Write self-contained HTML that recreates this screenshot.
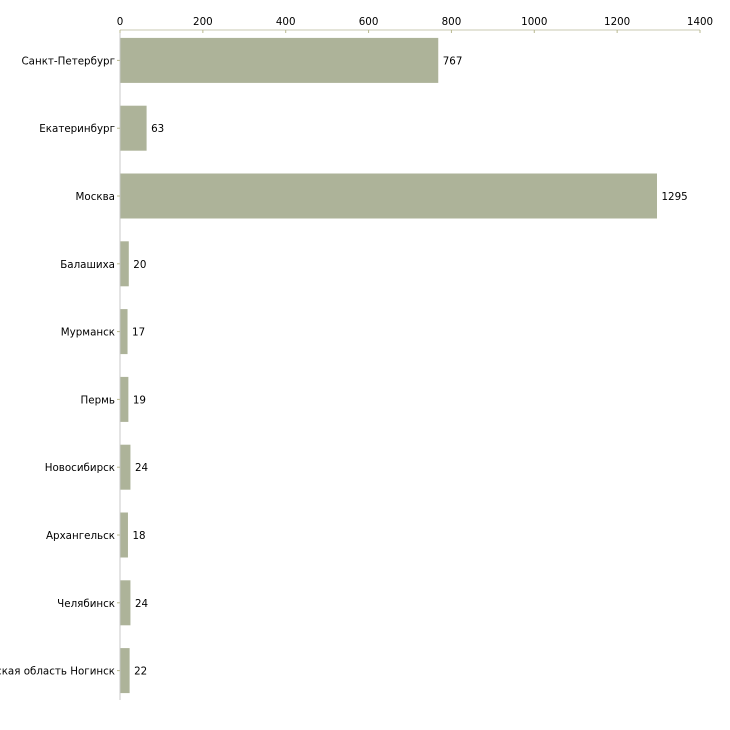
<!DOCTYPE html>
<html><head><meta charset="utf-8"><style>body{margin:0;background:#fff}svg{display:block;font-family:"DejaVu Sans","Liberation Sans",sans-serif}</style></head>
<body>
<svg id="chart" width="730" height="730" xmlns="http://www.w3.org/2000/svg"></svg>
<script>
const categories=["Санкт-Петербург","Екатеринбург","Москва","Балашиха","Мурманск","Пермь","Новосибирск","Архангельск","Челябинск","Московская область Ногинск"];
const values=[767,63,1295,20,17,19,24,18,24,22];
const ticks=[0,200,400,600,800,1000,1200,1400];
const svg=document.getElementById('chart');
const NS='http://www.w3.org/2000/svg';
const x0=120,x1=700,yTop=30,yBot=700,band=67.8,first=26.5,fs=10.3;
function xs(v){return x0+(v-0)/(1400-0)*(x1-x0);}
function yc(i){return first+band*(i+0.5);}
function mk(t,a,txt){const e=document.createElementNS(NS,t);for(const k in a)e.setAttribute(k,a[k]);if(txt!==undefined)e.textContent=txt;svg.appendChild(e);return e;}
let e=mk('line',{x1:x0,y1:yTop,x2:x0,y2:yBot,stroke:'#c8c8c8'});


e=mk('line',{x1:x0,y1:yTop,x2:x1,y2:yTop,stroke:'#c8c8b0'});


ticks.forEach(t=>{
 let l=mk('line',{x1:xs(t),y1:yTop,x2:xs(t),y2:yTop+3,stroke:'#b8b890'});
 
 
 let tx=mk('text',{x:xs(t),y:25,'font-size':fs,'text-anchor':'middle',fill:'#000'},t);
 
 
});
categories.forEach((c,i)=>{
 const y=yc(i);
 let r=mk('rect',{x:x0+0.5,y:y-22.5,width:xs(values[i])-x0,height:45,fill:'#adb399'});
 
 
 let l=mk('line',{x1:x0-3,y1:y,x2:x0,y2:y,stroke:'#b8b890'});
 
 
 let t=mk('text',{x:x0-5,y:y+4,'font-size':fs,'text-anchor':'end',fill:'#000'},c);
 
 
 let v=mk('text',{x:xs(values[i])+5,y:y+4,'font-size':fs,fill:'#000'},values[i]);
 
 
});
</script>
</body></html>
